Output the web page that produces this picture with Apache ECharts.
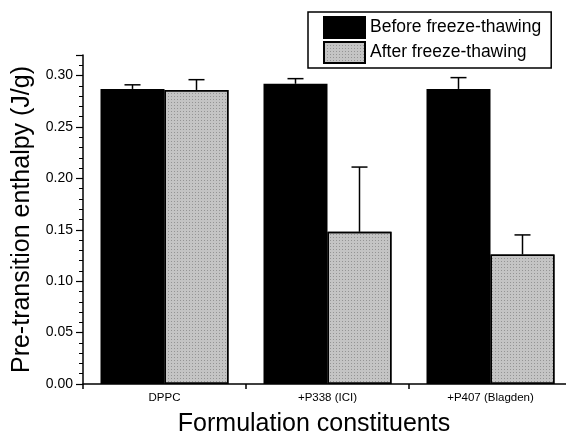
<!DOCTYPE html>
<html>
<head>
<meta charset="utf-8">
<script src="https://cdn.jsdelivr.net/npm/echarts@6/dist/echarts.min.js"></script>
<style>html,body{margin:0;padding:0;background:#fff}#c{width:566px;height:436px}</style>
</head>
<body>
<div id="c"></div>
<script>
var categories = ['DPPC', '+P338 (ICI)', '+P407 (Blagden)'];
var before = [0.287, 0.292, 0.287];
var beforeErr = [0.004, 0.005, 0.011];
var after = [0.286, 0.148, 0.126];
var afterErr = [0.010, 0.063, 0.019];
var yTicks = [0, 0.05, 0.10, 0.15, 0.20, 0.25, 0.30];

var FONT = 'Liberation Sans, Arial, Helvetica, sans-serif';
var chart = echarts.init(document.getElementById('c'));

function errSeries(vals, errs, offset) {
  return {
    type: 'custom',
    z: 5,
    silent: true,
    data: vals.map(function (v, i) { return [i, v, v + errs[i]]; }),
    renderItem: function (params, api) {
      var top = api.coord([api.value(0), api.value(1)]);
      var cap = api.coord([api.value(0), api.value(2)]);
      var x = top[0] + offset;
      var st = { stroke: '#000', lineWidth: 1.5 };
      return {
        type: 'group',
        children: [
          { type: 'line', shape: { x1: x, y1: top[1], x2: x, y2: cap[1] }, style: st },
          { type: 'line', shape: { x1: x - 8, y1: cap[1], x2: x + 8, y2: cap[1] }, style: st }
        ]
      };
    }
  };
}

chart.setOption({
  animation: false,
  textStyle: { fontFamily: FONT, color: '#000' },
  grid: { left: 83, right: -6, top: 55, bottom: 52, containLabel: false, outerBoundsMode: 'none' },
  legend: {
    orient: 'vertical',
    left: 308,
    top: 12,
    padding: [4, 10, 4, 15],
    itemGap: 2,
    itemWidth: 41,
    itemHeight: 21,
    itemTextGap: 4,
    borderColor: '#000',
    borderWidth: 1.5,
    borderRadius: 0,
    icon: 'rect',
    textStyle: { fontFamily: FONT, fontSize: 17.5, color: '#000' },
    data: ['Before freeze-thawing', 'After freeze-thawing']
  },
  xAxis: {
    type: 'category',
    data: categories,
    name: 'Formulation constituents',
    nameLocation: 'middle',
    nameGap: 28,
    nameTextStyle: { fontFamily: FONT, fontSize: 25, color: '#000', padding: [0, 27, 0, 0] },
    axisLine: { lineStyle: { color: '#000', width: 1.5 } },
    axisTick: { show: true, length: 5, lineStyle: { color: '#000', width: 1.5 } },
    axisLabel: { fontFamily: FONT, fontSize: 11.5, color: '#000', margin: 8 },
    splitLine: { show: false }
  },
  yAxis: {
    type: 'value',
    min: 0,
    max: 0.32,
    interval: 0.05,
    name: 'Pre-transition enthalpy (J/g)',
    nameLocation: 'middle',
    nameGap: 45,
    nameTextStyle: { fontFamily: FONT, fontSize: 25, color: '#000' },
    axisLine: { show: true, lineStyle: { color: '#000', width: 1.5 } },
    axisTick: { show: true, length: 7, lineStyle: { color: '#000', width: 1.2 } },
    minorTick: { show: true, splitNumber: 5, length: 4, lineStyle: { color: '#000', width: 1 } },
    axisLabel: {
      fontFamily: FONT, fontSize: 14, color: '#000', margin: 10,
      showMaxLabel: false,
      formatter: function (v) {
        for (var i = 0; i < yTicks.length; i++) if (Math.abs(v - yTicks[i]) < 1e-9) return yTicks[i].toFixed(2);
        return '';
      }
    },
    splitLine: { show: false }
  },
  series: [
    {
      name: 'Before freeze-thawing',
      type: 'bar',
      data: before,
      barWidth: 64,
      barGap: '0%',
      itemStyle: { color: '#000', borderColor: '#000', borderWidth: 1.5 }
    },
    {
      name: 'After freeze-thawing',
      type: 'bar',
      data: after,
      barWidth: 64,
      barGap: '0%',
      itemStyle: {
        color: '#c4c4c4', borderColor: '#000', borderWidth: 1.5,
        decal: { symbol: 'rect', symbolSize: 1, dashArrayX: [1, 2], dashArrayY: [1, 2], color: 'rgba(110,110,110,0.55)' }
      }
    },
    errSeries(before, beforeErr, -32),
    errSeries(after, afterErr, 32)
  ]
});
</script>
</body>
</html>
